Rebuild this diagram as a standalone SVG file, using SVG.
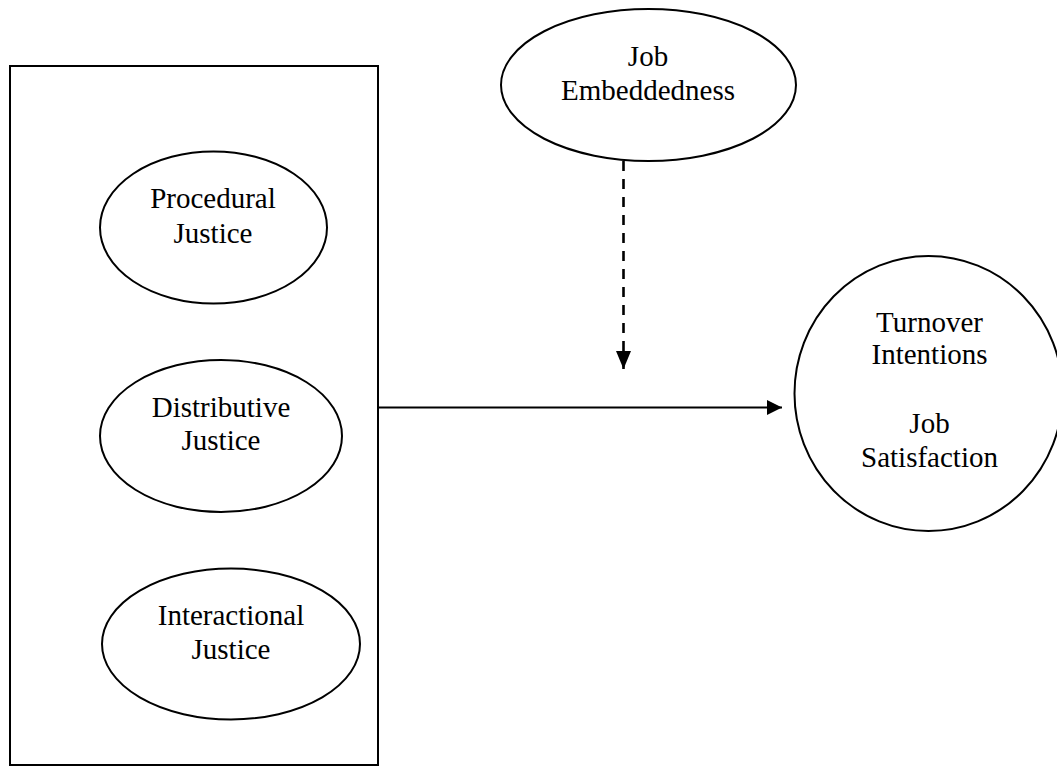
<svg xmlns="http://www.w3.org/2000/svg" width="1057" height="767" viewBox="0 0 1057 767">
<style>
.shape{fill:#fff;stroke:#000;stroke-width:2}
.lbl{font-family:"Liberation Serif","Times New Roman",serif;font-size:29px;fill:#000;text-anchor:middle}
.conn{stroke:#000;stroke-width:2;fill:none}
.dash{stroke-width:2.6;stroke-dasharray:10 8}
</style>
<defs>
<marker id="ah" markerWidth="15" markerHeight="15" refX="15" refY="7.5" orient="auto" markerUnits="userSpaceOnUse">
<path d="M0,0 L15,7.5 L0,15 Z" fill="#000"/>
</marker>
<marker id="ah2" markerWidth="18" markerHeight="15" refX="18" refY="7.5" orient="auto" markerUnits="userSpaceOnUse">
<path d="M0,0 L18,7.5 L0,15 Z" fill="#000"/>
</marker>
</defs>
<rect width="1057" height="767" fill="#fff"/>
<g id="justice-box">
<rect class="shape" x="10" y="66" width="368" height="699"/>
</g>
<g id="procedural">
<ellipse class="shape" cx="213.5" cy="227.5" rx="113.5" ry="76"/>
<text class="lbl" x="213" y="208">Procedural</text>
<text class="lbl" x="213" y="242.5">Justice</text>
</g>
<g id="distributive">
<ellipse class="shape" cx="221" cy="436" rx="121" ry="76"/>
<text class="lbl" x="221" y="416.5">Distributive</text>
<text class="lbl" x="221" y="450">Justice</text>
</g>
<g id="interactional">
<ellipse class="shape" cx="231" cy="644" rx="129" ry="75.5"/>
<text class="lbl" x="231" y="625">Interactional</text>
<text class="lbl" x="231" y="659">Justice</text>
</g>
<g id="embeddedness">
<ellipse class="shape" cx="648.5" cy="85" rx="147.5" ry="76"/>
<text class="lbl" x="648" y="65.5">Job</text>
<text class="lbl" x="648" y="100">Embeddedness</text>
</g>
<g id="outcomes">
<ellipse class="shape" cx="928.5" cy="393.5" rx="134" ry="137.5"/>
<text class="lbl" x="929.5" y="331.5">Turnover</text>
<text class="lbl" x="929.5" y="363.5">Intentions</text>
<text class="lbl" x="929.5" y="432.5">Job</text>
<text class="lbl" x="929.5" y="466.5">Satisfaction</text>
</g>
<g id="connectors">
<line class="conn" x1="378" y1="407.5" x2="782" y2="407.5" marker-end="url(#ah)"/>
<line class="conn dash" x1="623.5" y1="161" x2="623.5" y2="369" marker-end="url(#ah2)"/>
</g>
</svg>
